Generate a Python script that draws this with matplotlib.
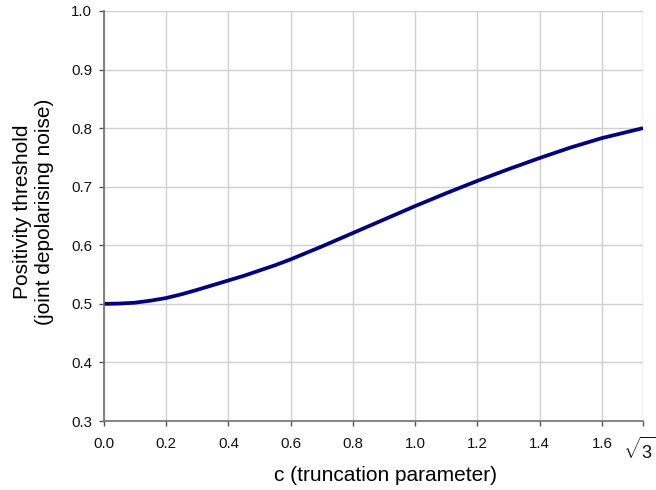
import numpy as np
import matplotlib.pyplot as plt
import matplotlib.transforms as mtransforms

plt.rcParams['font.family'] = ['Liberation Sans', 'DejaVu Sans']
plt.rcParams['mathtext.fontset'] = 'custom'
plt.rcParams['mathtext.rm'] = 'Liberation Sans'

# values
c_vals = [0.0, 0.05, 0.1, 0.15, 0.2, 0.25, 0.3, 0.35, 0.4, 0.45, 0.5, 0.55,
          0.6, 0.65, 0.7, 0.8, 0.9, 1.0, 1.1, 1.2, 1.3, 1.4, 1.5, 1.6,
          np.sqrt(3)]
threshold = [0.500, 0.5005, 0.502, 0.5055, 0.510, 0.5165, 0.524, 0.532, 0.540,
             0.548, 0.557, 0.566, 0.576, 0.587, 0.598, 0.621, 0.644, 0.667,
             0.689, 0.710, 0.730, 0.749, 0.767, 0.783, 0.800]

xticks = [0.0, 0.2, 0.4, 0.6, 0.8, 1.0, 1.2, 1.4, 1.6, np.sqrt(3)]
xticklabels = ['0.0', '0.2', '0.4', '0.6', '0.8', '1.0', '1.2', '1.4', '1.6', r'$\sqrt{3}$']
yticks = [0.3, 0.4, 0.5, 0.6, 0.7, 0.8, 0.9, 1.0]

W, H = 656, 490
fig = plt.figure(figsize=(W / 100, H / 100), dpi=100)
ax = fig.add_axes([104 / W, 1 - 421 / H, 539 / W, 410 / H])

ax.plot(c_vals, threshold, color='#000080', lw=2.7,
        solid_joinstyle='round', solid_capstyle='butt')

ax.set_xlim(0, np.sqrt(3))
ax.set_ylim(0.3, 1.0)
ax.set_xticks(xticks)
ax.set_xticklabels(xticklabels)
ax.set_yticks(yticks)
ax.set_yticklabels(['%.1f' % v for v in yticks])
ax.grid(True, color='#d0d0d0', lw=1.0)
ax.set_axisbelow(True)

for s in ['top', 'right']:
    ax.spines[s].set_visible(False)
for s in ['left', 'bottom']:
    ax.spines[s].set_color('#707070')
    ax.spines[s].set_linewidth(1.2)
ax.tick_params(length=3.6, width=1.0, color='#555555', labelsize=10.8,
               labelcolor='#111111')
ax.tick_params(axis='y', pad=5)
ax.tick_params(axis='x', pad=8)
# the sqrt(3) label is drawn larger in the reference; nudge it left to fit
sq = ax.get_xticklabels()[-1]
sq.set_fontsize(13)
sq.set_transform(sq.get_transform() +
                 mtransforms.ScaledTranslation(-4 / 100, 0, fig.dpi_scale_trans))

# axis titles placed as in the reference (slightly right of centre for x)
fig.text(385.5 / W, 1 - 475 / H, 'c (truncation parameter)', fontsize=15,
         ha='center', va='center')
fig.text(34 / W, 1 - 212 / H, 'Positivity threshold\n(joint depolarising noise)',
         fontsize=15, rotation=90, ha='center', va='center',
         multialignment='center')

plt.savefig('out.png', dpi=100)
